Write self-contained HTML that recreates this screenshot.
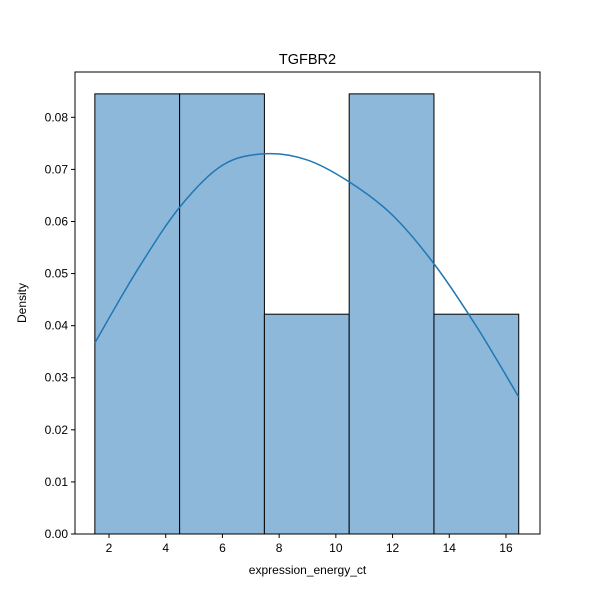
<!DOCTYPE html>
<html><head><meta charset="utf-8"><style>body{margin:0;background:#fff}svg{display:block;font-family:"Liberation Sans","DejaVu Sans",sans-serif}</style></head>
<body>
<svg id="chart" width="600" height="600" viewBox="0 0 600 600"></svg>
<script>
const binEdges = [1.5, 4.49, 7.48, 10.47, 13.46, 16.45];
const binDensities = [0.0845, 0.0845, 0.0422, 0.0845, 0.0422];
const kdeX = [1.5, 3.0, 4.5, 6.0, 7.5, 9.0, 10.5, 12.0, 13.5, 15.0, 16.45];
const kdeY = [0.0367, 0.0507, 0.0628, 0.0708, 0.073, 0.0718, 0.0675, 0.0612, 0.0516, 0.0395, 0.0263];
const xTicks = [2, 4, 6, 8, 10, 12, 14, 16];
const yTicks = [0, 0.01, 0.02, 0.03, 0.04, 0.05, 0.06, 0.07, 0.08];
const L=75,R=540,T=72,B=534, xMin=0.80,xMax=17.20,yMin=0,yMax=0.0887;
const sx=v=>L+(v-xMin)/(xMax-xMin)*(R-L);
const sy=v=>B-(v-yMin)/(yMax-yMin)*(B-T);
const svg=document.getElementById('chart');const NS='http://www.w3.org/2000/svg';
function mk(tag,attrs,parent){const e=document.createElementNS(NS,tag);for(const k in attrs)e.setAttribute(k,attrs[k]);(parent||svg).appendChild(e);return e;}
binDensities.forEach((d,i)=>{
  const r=mk('rect',{x:sx(binEdges[i]),y:sy(d),width:sx(binEdges[i+1])-sx(binEdges[i]),height:sy(0)-sy(d),fill:'#8db8da',stroke:'#000','stroke-width':1});
  
  
});
// smooth KDE via catmull-rom
const pts=kdeX.map((x,i)=>[sx(x),sy(kdeY[i])]);
let d='M'+pts[0][0]+','+pts[0][1];
for(let i=0;i<pts.length-1;i++){const p0=pts[Math.max(0,i-1)],p1=pts[i],p2=pts[i+1],p3=pts[Math.min(pts.length-1,i+2)];
d+=` C${p1[0]+(p2[0]-p0[0])/6},${p1[1]+(p2[1]-p0[1])/6} ${p2[0]-(p3[0]-p1[0])/6},${p2[1]-(p3[1]-p1[1])/6} ${p2[0]},${p2[1]}`;}
const kde=mk('path',{d:d,fill:'none',stroke:'#1f77b4','stroke-width':1.5});


const frame=mk('rect',{x:L,y:T,width:R-L,height:B-T,fill:'none',stroke:'#000','stroke-width':1});


xTicks.forEach(v=>{const x=sx(v);mk('line',{x1:x,x2:x,y1:B,y2:B+4,stroke:'#000'});
const t=mk('text',{x:x,y:B+18,'text-anchor':'middle','font-size':12});t.textContent=v;

});
yTicks.forEach(v=>{const y=sy(v);mk('line',{x1:L-4,x2:L,y1:y,y2:y,stroke:'#000'});
const t=mk('text',{x:L-7,y:y+4,'text-anchor':'end','font-size':12});t.textContent=v.toFixed(2);

});
const xt=mk('text',{x:(L+R)/2,y:574,'text-anchor':'middle','font-size':12});xt.textContent='expression_energy_ct';


const yt=mk('text',{x:0,y:0,'text-anchor':'middle','font-size':12,transform:`translate(26,${(T+B)/2}) rotate(-90)`});yt.textContent='Density';


const tt=mk('text',{x:(L+R)/2,y:64,'text-anchor':'middle','font-size':14.5});tt.textContent='TGFBR2';


</script>
</body></html>
